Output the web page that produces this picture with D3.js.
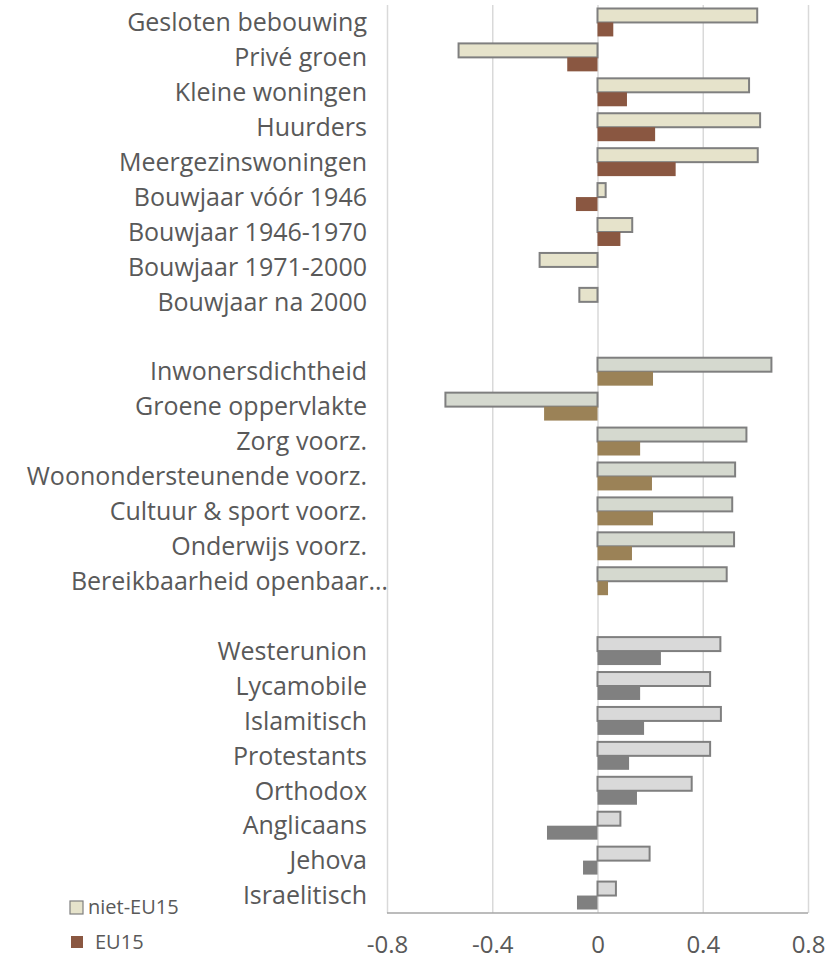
<!DOCTYPE html>
<html>
<head>
<meta charset="utf-8">
<script src="https://cdn.jsdelivr.net/npm/d3@7"></script>
<style>
  html, body { margin: 0; padding: 0; background: #fff; }
  svg { display: block; }
  text { font-family: "Open Sans", sans-serif; fill: #595959; }
</style>
</head>
<body>
<svg id="chart" width="838" height="957"></svg>
<script>
// Category rows, top to bottom; "" marks an empty spacer row between blocks
const categories = [
  "Gesloten bebouwing", "Privé groen", "Kleine woningen", "Huurders",
  "Meergezinswoningen", "Bouwjaar vóór 1946", "Bouwjaar 1946-1970",
  "Bouwjaar 1971-2000", "Bouwjaar na 2000",
  "",
  "Inwonersdichtheid", "Groene oppervlakte", "Zorg voorz.",
  "Woonondersteunende voorz.", "Cultuur & sport voorz.", "Onderwijs voorz.",
  "Bereikbaarheid openbaar…",
  "",
  "Westerunion", "Lycamobile", "Islamitisch", "Protestants", "Orthodox",
  "Anglicaans", "Jehova", "Israelitisch"
];
// Block index of each row (0 = woning, 1 = voorzieningen, 2 = diensten/religie)
const blockOf = [0,0,0,0,0,0,0,0,0, null, 1,1,1,1,1,1,1, null, 2,2,2,2,2,2,2,2];

const nietEU15 = [
  0.607, -0.528, 0.576, 0.618, 0.609, 0.031, 0.132, -0.220, -0.069,
  null,
  0.661, -0.578, 0.566, 0.523, 0.512, 0.519, 0.491,
  null,
  0.467, 0.428, 0.469, 0.428, 0.358, 0.087, 0.198, 0.070
];
const EU15 = [
  0.060, -0.115, 0.112, 0.219, 0.297, -0.082, 0.087, 0, 0,
  null,
  0.211, -0.203, 0.162, 0.207, 0.211, 0.131, 0.040,
  null,
  0.241, 0.162, 0.177, 0.120, 0.150, -0.192, -0.055, -0.078
];

const seriesNames = ["niet-EU15", "EU15"];
const xTicks = [-0.8, -0.4, 0, 0.4, 0.8];
const xTickLabels = ["-0.8", "-0.4", "0", "0.4", "0.8"];

// Fill colours per block: [niet-EU15, EU15]
const blockColors = [
  ["#E6E3CB", "#8A5741"],
  ["#D5D9CF", "#9B8257"],
  ["#D9D9D9", "#808080"]
];

const svg = d3.select("#chart");
const plot = { left: 387, right: 808, top: 5, bottom: 913 };

const x = d3.scaleLinear().domain([-0.8, 0.8]).range([plot.left, plot.right]);
const rowKeys = categories.map((c, i) => "r" + i);
const y = d3.scaleBand().domain(rowKeys).range([plot.top, plot.bottom])
  .paddingInner(0.2).paddingOuter(0.1);
const ySub = d3.scaleBand().domain(seriesNames).range([0, y.bandwidth()]);

// Vertical gridlines
const grid = svg.append("g")
  .attr("transform", `translate(0,${plot.bottom})`)
  .call(d3.axisBottom(x).tickValues(xTicks).tickSize(-(plot.bottom - plot.top)).tickFormat(""));
grid.select(".domain").remove();
grid.selectAll(".tick line").attr("stroke", "#D9D9D9").attr("stroke-width", 1.5);

// Bars
const rows = categories.map((c, i) => ({ i, c, block: blockOf[i], vals: [nietEU15[i], EU15[i]] }))
  .filter(d => d.block !== null);

const bars = [];
rows.forEach(r => {
  seriesNames.forEach((s, k) => {
    const v = r.vals[k];
    if (v === null || v === 0) return;
    bars.push({ row: r.i, series: s, k, v, block: r.block });
  });
});

svg.append("g").selectAll("rect").data(bars).join("rect")
  .attr("x", d => x(Math.min(0, d.v)))
  .attr("width", d => Math.abs(x(d.v) - x(0)))
  .attr("y", d => y("r" + d.row) + ySub(d.series))
  .attr("height", ySub.bandwidth())
  .attr("fill", d => blockColors[d.block][d.k])
  .attr("stroke", d => d.k === 0 ? "#7F7F7F" : "none")
  .attr("stroke-width", d => d.k === 0 ? 2 : 0);

// Bottom axis line and tick labels
svg.append("line")
  .attr("x1", plot.left).attr("x2", plot.right)
  .attr("y1", plot.bottom).attr("y2", plot.bottom)
  .attr("stroke", "#A6A6A6").attr("stroke-width", 1.5);

const xAxis = svg.append("g")
  .attr("transform", `translate(0,${plot.bottom})`)
  .call(d3.axisBottom(x).tickValues(xTicks).tickSize(0).tickPadding(0)
    .tickFormat((d, i) => xTickLabels[i]));
xAxis.select(".domain").remove();
xAxis.selectAll("text")
  .attr("dy", null).attr("y", 40)
  .style("font-size", "24px").style("fill", "#595959");

// Category labels (the truncated one runs up to the axis edge)
svg.append("g").selectAll("text").data(rows).join("text")
  .attr("x", d => d.c.endsWith("…") ? 388 : 367)
  .attr("y", d => y("r" + d.i) + y.bandwidth() / 2)
  .attr("dy", "0.35em")
  .attr("text-anchor", "end")
  .style("font-size", "25px")
  .text(d => d.c);

// Legend
const legend = svg.append("g");
seriesNames.forEach((s, k) => {
  const ly = 907 + k * 35;
  legend.append("rect")
    .attr("x", k === 0 ? 70 : 71).attr("y", ly - 6)
    .attr("width", k === 0 ? 13 : 12).attr("height", k === 0 ? 13 : 12)
    .attr("fill", blockColors[0][k])
    .attr("stroke", k === 0 ? "#7F7F7F" : "none")
    .attr("stroke-width", 1.2);
  legend.append("text")
    .attr("x", k === 0 ? 88 : 95).attr("y", ly).attr("dy", "0.35em")
    .style("font-size", "20px")
    .text(s);
});
</script>
</body>
</html>
